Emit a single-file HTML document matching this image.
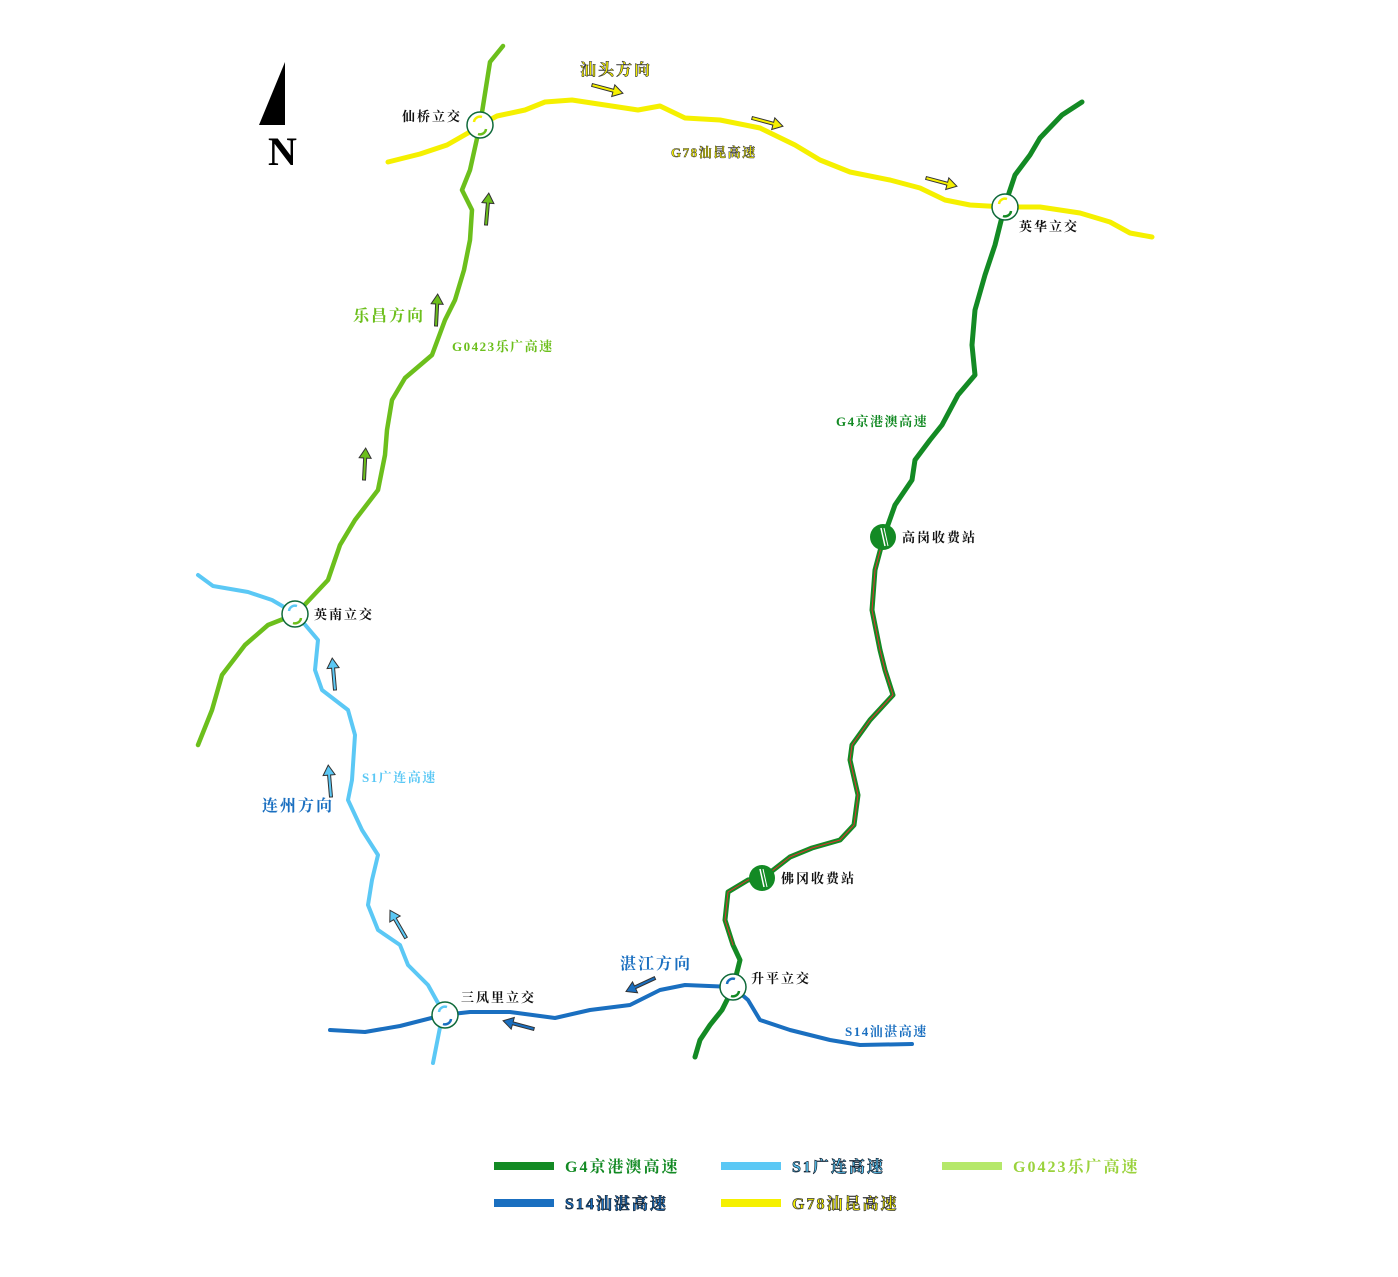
<!DOCTYPE html>
<html><head><meta charset="utf-8"><style>
html,body{margin:0;padding:0;background:#fff;}
svg text{font-family:"Liberation Serif","Noto Serif CJK SC",serif;font-weight:bold;}
</style></head><body>
<svg width="1398" height="1272" viewBox="0 0 1398 1272" xmlns="http://www.w3.org/2000/svg">
<g fill="none" stroke-linejoin="round" stroke-linecap="round">
<polyline stroke="#f5f000" stroke-width="5" points="388,162 420,154 447,145 468,133 480,125 497,116 525,110 545,102 572,100 605,105 638,110 660,106 685,118 720,120 760,128 795,145 820,160 850,172 890,180 920,188 945,200 970,205 1005,207 1040,207 1080,213 1110,222 1130,233 1152,237"/>
<polyline stroke="#6cbf1c" stroke-width="4.5" points="503,46 490,62 480,125 470,170 462,190 472,210 470,240 464,270 455,300 445,320 432,355 405,378 392,400 387,430 385,455 378,490 355,520 340,545 328,580 312,597 296,614 268,625 245,645 222,675 212,710 198,745"/>
<polyline stroke="#5bc8f5" stroke-width="4" points="198,575 213,586 248,592 272,600 296,614 318,640 315,670 322,690 348,710 355,735 352,780 348,800 362,830 378,855 372,880 368,905 378,930 400,945 408,965 428,985 443,1012 433,1063"/>
<polyline stroke="#138a24" stroke-width="5" points="1082,102 1062,115 1040,138 1030,155 1015,175 1005,205 995,245 985,275 975,310 972,345 975,375 958,395 942,425 930,440 915,460 912,480 895,505 884,536 875,570 872,610 880,650 885,670 893,695 870,720 852,745 850,760 858,795 854,825 840,840 812,848 790,857 763,878 748,880 728,892 725,920 733,945 740,960 733,988 722,1010 710,1025 700,1040 695,1057"/>
<polyline stroke="#e03030" stroke-width="1" points="884,536 875,570 872,610 880,650 885,670 893,695 870,720 852,745 850,760 858,795 854,825 840,840 812,848 790,857 763,878 748,880 728,892 725,920 733,945"/>
<polyline stroke="#1a6fc0" stroke-width="4" points="330,1030 365,1032 400,1026 443,1015 470,1012 510,1012 540,1016 555,1018 590,1010 630,1005 660,990 685,985 733,987 748,1000 760,1020 790,1030 830,1040 860,1045 912,1044"/>
</g>
<g fill="#fff" stroke="#0f6a3a" stroke-width="1.5">
<circle cx="480" cy="125" r="13"/><circle cx="1005" cy="207" r="13"/><circle cx="295" cy="614" r="13"/><circle cx="445" cy="1015" r="13"/><circle cx="733" cy="987" r="13"/>
</g>
<g fill="none" stroke-width="2.5">
<path d="M474,122 a6,6 0 0 1 8,-5" stroke="#f5f000"/><path d="M486,129 a6,6 0 0 1 -8,5" stroke="#6cbf1c"/>
<path d="M999,204 a6,6 0 0 1 8,-5" stroke="#f5f000"/><path d="M1011,211 a6,6 0 0 1 -8,5" stroke="#138a24"/>
<path d="M289,611 a6,6 0 0 1 8,-5" stroke="#5bc8f5"/><path d="M301,618 a6,6 0 0 1 -8,5" stroke="#6cbf1c"/>
<path d="M439,1012 a6,6 0 0 1 8,-5" stroke="#5bc8f5"/><path d="M451,1019 a6,6 0 0 1 -8,5" stroke="#1a6fc0"/>
<path d="M727,984 a6,6 0 0 1 8,-5" stroke="#1a6fc0"/><path d="M739,991 a6,6 0 0 1 -8,5" stroke="#138a24"/>
</g>
<g><circle cx="883" cy="537" r="13" fill="#138a24"/><line x1="881" y1="528" x2="885" y2="546" stroke="#fff" stroke-width="1.5"/><line x1="884" y1="528" x2="888" y2="546" stroke="#fff" stroke-width="1"/>
<circle cx="762" cy="878" r="13" fill="#138a24"/><line x1="760" y1="869" x2="764" y2="887" stroke="#fff" stroke-width="1.5"/><line x1="763" y1="869" x2="767" y2="887" stroke="#fff" stroke-width="1"/></g>
<polygon points="285,62 285,125 259,125" fill="#000"/>
<text x="268" y="165" font-size="40" fill="#000">N</text>
<g stroke="#333" stroke-width="1">
<g transform="translate(592,85) rotate(15)"><polygon points="0,-1.5 22,-1.5 22,-6 32,0 22,6 22,1.5 0,1.5" fill="#f5f000"/></g>
<g transform="translate(752,118) rotate(15)"><polygon points="0,-1.5 22,-1.5 22,-6 32,0 22,6 22,1.5 0,1.5" fill="#f5f000"/></g>
<g transform="translate(926,178) rotate(15)"><polygon points="0,-1.5 22,-1.5 22,-6 32,0 22,6 22,1.5 0,1.5" fill="#f5f000"/></g>
<g transform="translate(486,225) rotate(-85)"><polygon points="0,-1.5 22,-1.5 22,-6 32,0 22,6 22,1.5 0,1.5" fill="#6cbf1c"/></g>
<g transform="translate(436,326) rotate(-87)"><polygon points="0,-1.5 22,-1.5 22,-6 32,0 22,6 22,1.5 0,1.5" fill="#6cbf1c"/></g>
<g transform="translate(364,480) rotate(-87)"><polygon points="0,-1.5 22,-1.5 22,-6 32,0 22,6 22,1.5 0,1.5" fill="#6cbf1c"/></g>
<g transform="translate(335,690) rotate(-95)"><polygon points="0,-1.5 22,-1.5 22,-6 32,0 22,6 22,1.5 0,1.5" fill="#5bc8f5"/></g>
<g transform="translate(331,797) rotate(-95)"><polygon points="0,-1.5 22,-1.5 22,-6 32,0 22,6 22,1.5 0,1.5" fill="#5bc8f5"/></g>
<g transform="translate(406,938) rotate(-120)"><polygon points="0,-1.5 22,-1.5 22,-6 32,0 22,6 22,1.5 0,1.5" fill="#5bc8f5"/></g>
<g transform="translate(655,978) rotate(155)"><polygon points="0,-1.5 22,-1.5 22,-6 32,0 22,6 22,1.5 0,1.5" fill="#1a6fc0"/></g>
<g transform="translate(534,1029) rotate(195)"><polygon points="0,-1.5 22,-1.5 22,-6 32,0 22,6 22,1.5 0,1.5" fill="#1a6fc0"/></g>
</g>
<g font-size="13" fill="#111" letter-spacing="2">
<text x="402" y="121">仙桥立交</text>
<text x="1019" y="231">英华立交</text>
<text x="314" y="619">英南立交</text>
<text x="461" y="1002">三凤里立交</text>
<text x="751" y="983">升平立交</text>
<text x="902" y="542">高岗收费站</text>
<text x="781" y="883">佛冈收费站</text>
</g>
<g font-size="16" letter-spacing="2">
<text x="580" y="75" fill="#f5f000" stroke="#333" stroke-width="0.6">汕头方向</text>
<text x="353" y="321" fill="#6cbf1c">乐昌方向</text>
<text x="262" y="811" fill="#1a6fc0">连州方向</text>
<text x="620" y="969" fill="#1a6fc0">湛江方向</text>
</g>
<g font-size="13" letter-spacing="1.5">
<text x="671" y="157" fill="#f5f000" stroke="#333" stroke-width="0.5">G78汕昆高速</text>
<text x="452" y="351" fill="#6cbf1c">G0423乐广高速</text>
<text x="836" y="426" fill="#138a24">G4京港澳高速</text>
<text x="362" y="782" fill="#5bc8f5" font-weight="normal">S1广连高速</text>
<text x="845" y="1036" fill="#1a6fc0">S14汕湛高速</text>
</g>
<rect x="494" y="1162" width="60" height="8" fill="#138a24"/>
<rect x="721" y="1162" width="60" height="8" fill="#5bc8f5"/>
<rect x="942" y="1162" width="60" height="8" fill="#b5e86a"/>
<rect x="494" y="1199" width="60" height="8" fill="#1a6fc0"/>
<rect x="721" y="1199" width="60" height="8" fill="#f5f000"/>
<g font-size="16" letter-spacing="2">
<text x="565" y="1172" fill="#138a24">G4京港澳高速</text>
<text x="792" y="1172" fill="#5bc8f5" stroke="#123" stroke-width="0.7">S1广连高速</text>
<text x="1013" y="1172" fill="#9ad23c">G0423乐广高速</text>
<text x="565" y="1209" fill="#1a6fc0" stroke="#123" stroke-width="0.7">S14汕湛高速</text>
<text x="792" y="1209" fill="#f5f000" stroke="#333" stroke-width="0.7">G78汕昆高速</text>
</g>
</svg>
</body></html>
